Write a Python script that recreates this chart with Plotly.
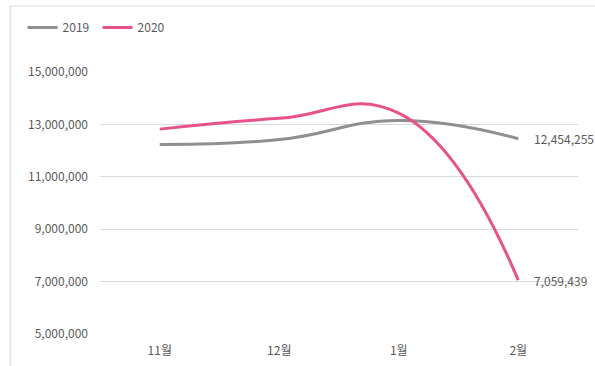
import plotly.graph_objects as go

# Monthly totals
months = ["11월", "12월", "1월", "2월"]
values_2019 = [12230000, 12420000, 13150000, 12454255]
values_2020 = [12820000, 13230000, 13430000, 7059439]
y_ticks = [5000000, 7000000, 9000000, 11000000, 13000000, 15000000]

GRAY = "#8f8f8f"
PINK = "#e7528a"
TEXT = "#595959"
FONT = "Noto Sans CJK KR, Noto Sans, sans-serif"

fig = go.Figure()
fig.add_trace(go.Scatter(
    x=months, y=values_2019, name="2019", mode="lines",
    line=dict(color=GRAY, width=3, shape="spline", smoothing=1.3),
))
fig.add_trace(go.Scatter(
    x=months, y=values_2020, name="2020", mode="lines",
    line=dict(color=PINK, width=3, shape="spline", smoothing=1.3),
))

# Value labels at the last month
for vals in (values_2019, values_2020):
    fig.add_annotation(x=months[-1], y=vals[-1], text=f"{vals[-1]:,}",
                       showarrow=False, xanchor="left", yanchor="middle",
                       xshift=14, font=dict(size=12, color=TEXT, family=FONT))

# Chart frame (left and top edges)
fig.add_shape(type="line", xref="paper", yref="paper",
              x0=-0.188, x1=-0.188, y0=-0.2, y1=1.252,
              line=dict(color="#d9d9d9", width=1.2))
fig.add_shape(type="line", xref="paper", yref="paper",
              x0=-0.188, x1=1.1, y0=1.252, y1=1.252,
              line=dict(color="#d9d9d9", width=1.2))

fig.update_layout(
    width=595, height=366,
    margin=dict(l=100, r=17, t=72, b=32),
    paper_bgcolor="white", plot_bgcolor="white",
    font=dict(family=FONT, size=12, color=TEXT),
    showlegend=True,
    legend=dict(orientation="h", x=-0.162, y=1.225, xanchor="left", yanchor="top",
                font=dict(size=12, color=TEXT), itemwidth=30,
                entrywidth=30, entrywidthmode="pixels",
                bgcolor="rgba(0,0,0,0)"),
    xaxis=dict(type="category", range=[-0.5, 3.5], showgrid=False, zeroline=False,
               showline=False, ticks="", ticklabelstandoff=8, automargin=False,
               tickfont=dict(size=12, color=TEXT)),
    yaxis=dict(range=[5000000, 15000000], tickvals=y_ticks,
               ticktext=[f"{v:,}" for v in y_ticks],
               showgrid=True, gridcolor="#d9d9d9", gridwidth=1,
               zeroline=False, showline=False, ticks="", ticklabelstandoff=11,
               automargin=False, tickfont=dict(size=12, color=TEXT)),
)

fig.write_html("out.html")
